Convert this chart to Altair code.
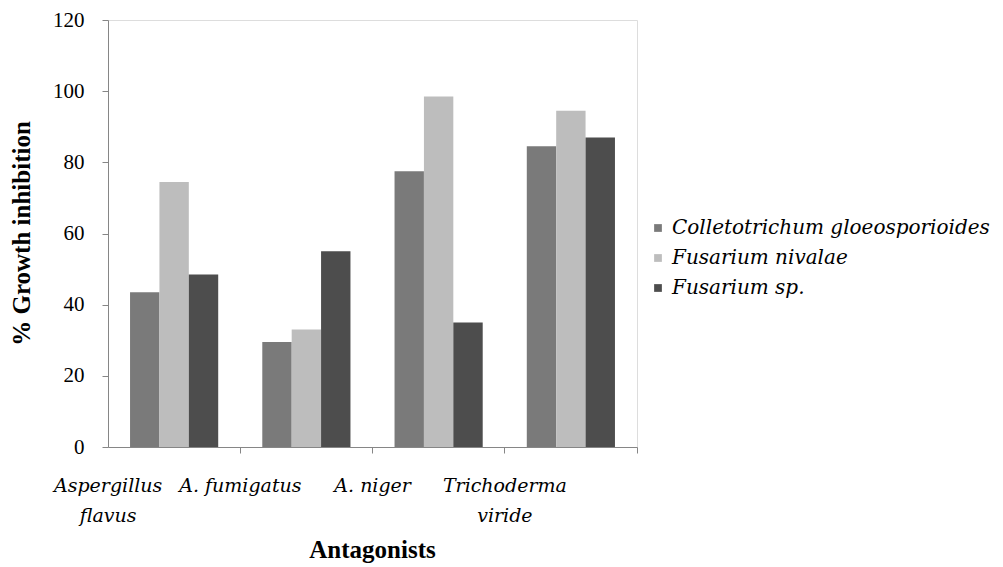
import altair as alt
import pandas as pd

antagonists = ["Aspergillus flavus", "A. fumigatus", "A. niger", "Trichoderma viride"]
series = ["Colletotrichum gloeosporioides", "Fusarium nivalae", "Fusarium sp."]
colleto = [43.5, 29.5, 77.5, 84.5]
nivalae = [74.5, 33.0, 98.5, 94.5]
fus_sp = [48.5, 55.0, 35.0, 87.0]
y_ticks = [0, 20, 40, 60, 80, 100, 120]
fills = ["#7a7a7a", "#bdbdbd", "#4d4d4d"]

rows = []
for vals, s in zip([colleto, nivalae, fus_sp], series):
    for a, v in zip(antagonists, vals):
        rows.append({"Antagonists": a, "Series": s, "Value": v})
df = pd.DataFrame(rows)

FONT = "Liberation Serif"
IFONT = "'DejaVu Serif', 'Liberation Serif', 'Times New Roman', serif"
GRAY = "#868686"

chart = alt.Chart(df).mark_bar().encode(
    x=alt.X(
        "Antagonists:N",
        sort=antagonists,
        scale=alt.Scale(paddingInner=0, paddingOuter=0),
        axis=alt.Axis(
            title="Antagonists",
            bandPosition=1,
            labelOffset=-66,
            labelAngle=0,
            labelExpr="indexof(datum.label, 'A. ') == 0 ? datum.label : split(datum.label, ' ')",
            labelFont=IFONT,
            labelFontSize=19,
            labelFontStyle="italic",
            labelColor="#000000",
            labelPadding=23,
            labelLineHeight=30,
            labelLimit=300,
            tickSize=6,
            tickColor=GRAY,
            domainColor=GRAY,
            titleFont=FONT,
            titleFontSize=25,
            titleFontWeight="bold",
            titleColor="#000000",
            titleX=264,
            titleY=102,
            titleBaseline="middle",
            titleAlign="center",
        ),
    ),
    xOffset=alt.XOffset(
        "Series:N",
        sort=series,
        scale=alt.Scale(paddingInner=0, paddingOuter=0.75),
    ),
    y=alt.Y(
        "Value:Q",
        scale=alt.Scale(domain=[0, 120], nice=False),
        axis=alt.Axis(
            title="% Growth inhibition",
            values=y_ticks,
            grid=False,
            labelFont=FONT,
            labelFontSize=21,
            labelColor="#000000",
            labelPadding=18,
            tickSize=6,
            tickColor=GRAY,
            domainColor=GRAY,
            titleFont=FONT,
            titleFontSize=25,
            titleFontWeight="bold",
            titleColor="#000000",
            titleX=-87,
            titleY=213,
            titleAngle=-90,
            titleBaseline="middle",
            titleAlign="center",
        ),
    ),
    color=alt.Color(
        "Series:N",
        sort=series,
        scale=alt.Scale(domain=series, range=fills),
        legend=alt.Legend(
            title=None,
            orient="none",
            legendX=540,
            legendY=198,
            symbolType="square",
            symbolSize=60,
            symbolStrokeWidth=0,
            labelFont=IFONT,
            labelFontSize=20,
            labelFontStyle="italic",
            labelColor="#000000",
            labelLimit=400,
            rowPadding=10,
        ),
    ),
).properties(
    width=529,
    height=427,
    autosize=alt.AutoSizeParams(type="none"),
    padding={"left": 100, "top": 12, "right": 358, "bottom": 116},
).configure_view(stroke=None).configure(background="#ffffff")

chart.save("out.html", embed_options={"renderer": "svg", "actions": False})
